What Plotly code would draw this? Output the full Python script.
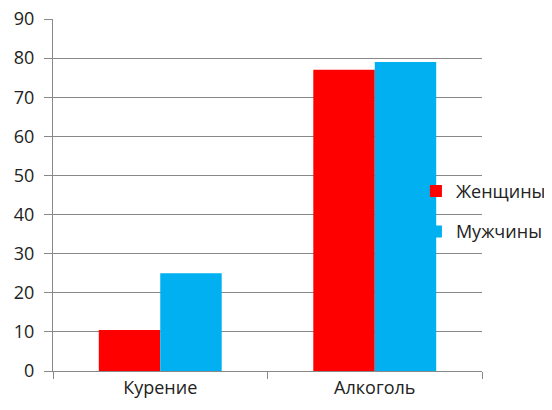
import plotly.graph_objects as go

# Data
categories = ["Курение", "Алкоголь"]
women = [10.5, 77]
men = [25, 79]
series_names = ["Женщины", "Мужчины"]

fig = go.Figure()

fig.add_trace(go.Bar(
    x=categories,
    y=women,
    name=series_names[0],
    legendgroup="w",
    marker=dict(color="#FF0000", line=dict(width=0)),
))

fig.add_trace(go.Bar(
    x=categories,
    y=men,
    name=series_names[1],
    legendgroup="m",
    marker=dict(color="#00B0F0", line=dict(width=0)),
))

font_family = "Open Sans, Liberation Sans, sans-serif"

# page body adds an 8px offset, so the figure is a bit smaller than the window
fig.update_layout(
    width=544,
    height=402,
    margin=dict(l=45, r=70, t=11, b=39, autoexpand=False),
    paper_bgcolor="white",
    plot_bgcolor="white",
    barmode="group",
    bargap=0.427,
    bargroupgap=0,
    font=dict(family=font_family, size=18, color="#222222"),
    showlegend=True,
    legend=dict(
        x=0.846,
        y=0.563,
        xanchor="left",
        yanchor="top",
        bgcolor="rgba(0,0,0,0)",
        font=dict(size=18, color="#222222"),
        itemwidth=30,
        traceorder="grouped",
        tracegroupgap=14,
    ),
    xaxis=dict(
        type="category",
        range=[-0.5, 1.5],
        showline=True,
        linecolor="#888888",
        linewidth=1,
        ticks="outside",
        tickson="boundaries",
        ticklen=7,
        tickcolor="#888888",
        showgrid=False,
        tickfont=dict(size=18),
    ),
    yaxis=dict(
        range=[0, 90],
        dtick=10,
        showline=True,
        linecolor="#888888",
        linewidth=1,
        ticks="outside",
        ticklen=8,
        tickcolor="#888888",
        showgrid=True,
        gridcolor="#888888",
        gridwidth=1,
        zeroline=False,
        tickfont=dict(size=18),
        ticklabelstandoff=6,
        ticklabeloverflow="allow",
    ),
)

fig.write_html("out.html")
